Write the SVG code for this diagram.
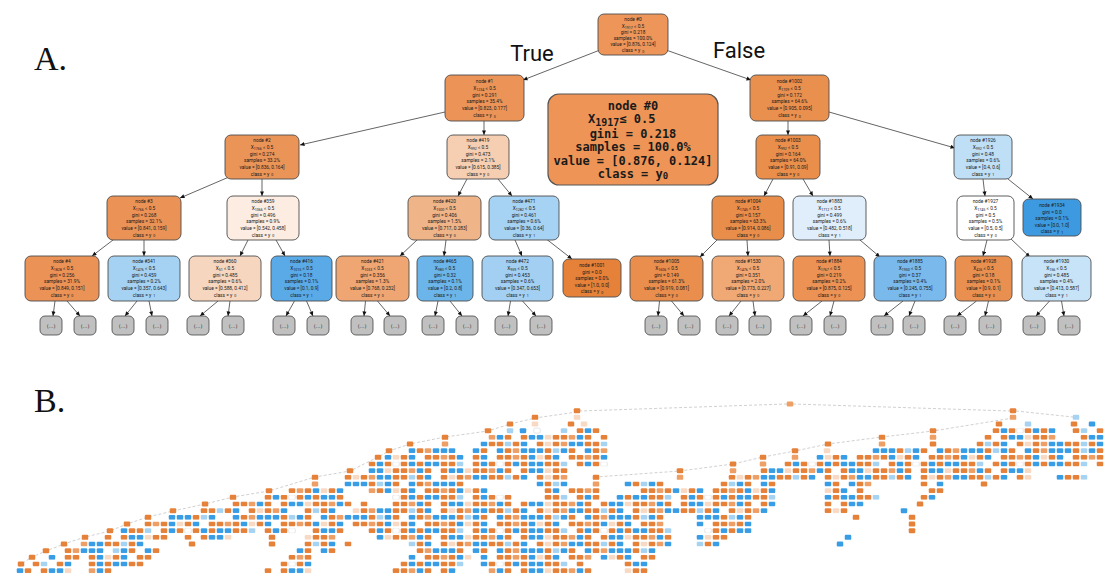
<svg xmlns="http://www.w3.org/2000/svg" width="1108" height="574" viewBox="0 0 1108 574">
<style>
.nd{stroke:#4d4d4d;stroke-width:0.9}
.t{font-family:Roboto,'Liberation Sans',sans-serif;font-size:4.8px;fill:#1a1a1a;text-anchor:middle}
.s{font-size:3.6px}
.e{stroke:#222;stroke-width:0.7;fill:none;marker-end:url(#ah)}
.g{fill:#c0c0c0;stroke:#444;stroke-width:0.8}
.gt{font-family:'DejaVu Sans',sans-serif;font-size:5px;fill:#333;text-anchor:middle}
.bt{font-family:'DejaVu Sans Mono',monospace;font-weight:bold;font-size:12px;fill:#1a1a1a;text-anchor:middle}
.bs{text-anchor:start}
.lbl{font-family:Roboto,'Liberation Sans',sans-serif;font-size:22px;fill:#111}
.pl{font-family:'Liberation Serif',serif;font-size:34px;fill:#111}
.dl{stroke:#c4c4c4;stroke-width:0.8;fill:none;stroke-dasharray:3 2}
.O{fill:#e58139}.o{fill:#ee9f66}.P{fill:#f8d9c4}.b{fill:#a7d3f3}.B{fill:#399de5}.W{fill:#fff;stroke:#ccc;stroke-width:0.5}
</style>
<defs>
<marker id="ah" viewBox="0 0 10 10" refX="10" refY="5" markerWidth="5" markerHeight="4.5" orient="auto" markerUnits="userSpaceOnUse"><path d="M0,0.5 L10,5 L0,9.5 z" fill="#111"/></marker>
<pattern id="pA" patternUnits="userSpaceOnUse" x="0" y="401.5" width="80" height="6.6667">
<rect x="0.75" width="6.5" height="5" rx="1.2" class="O"/><rect x="8.75" width="6.5" height="5" rx="1.2" class="o"/><rect x="16.75" width="6.5" height="5" rx="1.2" class="B"/><rect x="24.75" width="6.5" height="5" rx="1.2" class="O"/><rect x="40.75" width="6.5" height="5" rx="1.2" class="O"/><rect x="48.75" width="6.5" height="5" rx="1.2" class="B"/><rect x="56.75" width="6.5" height="5" rx="1.2" class="B"/><rect x="64.75" width="6.5" height="5" rx="1.2" class="P"/><rect x="72.75" width="6.5" height="5" rx="1.2" class="O"/>
</pattern>
<pattern id="pB" patternUnits="userSpaceOnUse" x="0" y="401.5" width="96" height="6.6667">
<rect x="0.75" width="6.5" height="5" rx="1.2" class="B"/><rect x="8.75" width="6.5" height="5" rx="1.2" class="O"/><rect x="16.75" width="6.5" height="5" rx="1.2" class="O"/><rect x="24.75" width="6.5" height="5" rx="1.2" class="b"/><rect x="32.75" width="6.5" height="5" rx="1.2" class="O"/><rect x="40.75" width="6.5" height="5" rx="1.2" class="B"/><rect x="56.75" width="6.5" height="5" rx="1.2" class="O"/><rect x="64.75" width="6.5" height="5" rx="1.2" class="P"/><rect x="72.75" width="6.5" height="5" rx="1.2" class="O"/><rect x="80.75" width="6.5" height="5" rx="1.2" class="o"/><rect x="88.75" width="6.5" height="5" rx="1.2" class="B"/>
</pattern>
<pattern id="pC" patternUnits="userSpaceOnUse" x="0" y="401.5" width="88" height="6.6667">
<rect x="0.75" width="6.5" height="5" rx="1.2" class="B"/><rect x="8.75" width="6.5" height="5" rx="1.2" class="B"/><rect x="16.75" width="6.5" height="5" rx="1.2" class="O"/><rect x="24.75" width="6.5" height="5" rx="1.2" class="b"/><rect x="32.75" width="6.5" height="5" rx="1.2" class="B"/><rect x="40.75" width="6.5" height="5" rx="1.2" class="O"/><rect x="56.75" width="6.5" height="5" rx="1.2" class="B"/><rect x="64.75" width="6.5" height="5" rx="1.2" class="O"/><rect x="72.75" width="6.5" height="5" rx="1.2" class="o"/><rect x="80.75" width="6.5" height="5" rx="1.2" class="B"/>
</pattern>
<pattern id="pD" patternUnits="userSpaceOnUse" x="0" y="401.5" width="72" height="6.6667">
<rect x="0.75" width="6.5" height="5" rx="1.2" class="O"/><rect x="8.75" width="6.5" height="5" rx="1.2" class="o"/><rect x="16.75" width="6.5" height="5" rx="1.2" class="O"/><rect x="24.75" width="6.5" height="5" rx="1.2" class="B"/><rect x="32.75" width="6.5" height="5" rx="1.2" class="P"/><rect x="40.75" width="6.5" height="5" rx="1.2" class="O"/><rect x="48.75" width="6.5" height="5" rx="1.2" class="B"/><rect x="64.75" width="6.5" height="5" rx="1.2" class="O"/>
</pattern>
<pattern id="pE" patternUnits="userSpaceOnUse" x="0" y="401.5" width="104" height="6.6667">
<rect x="0.75" width="6.5" height="5" rx="1.2" class="O"/><rect x="8.75" width="6.5" height="5" rx="1.2" class="B"/><rect x="16.75" width="6.5" height="5" rx="1.2" class="B"/><rect x="24.75" width="6.5" height="5" rx="1.2" class="O"/><rect x="32.75" width="6.5" height="5" rx="1.2" class="O"/><rect x="40.75" width="6.5" height="5" rx="1.2" class="b"/><rect x="56.75" width="6.5" height="5" rx="1.2" class="O"/><rect x="64.75" width="6.5" height="5" rx="1.2" class="B"/><rect x="72.75" width="6.5" height="5" rx="1.2" class="O"/><rect x="80.75" width="6.5" height="5" rx="1.2" class="W"/><rect x="88.75" width="6.5" height="5" rx="1.2" class="O"/><rect x="96.75" width="6.5" height="5" rx="1.2" class="B"/>
</pattern>
</defs>
<rect width="1108" height="574" fill="#fff"/>
<text class="pl" x="34" y="70">A.</text>
<text class="pl" x="34" y="412">B.</text>
<text class="lbl" x="532" y="61" text-anchor="middle">True</text>
<text class="lbl" x="739" y="58" text-anchor="middle">False</text>

<g id="edges">
<path class="e" d="M600,50 L523,80"/>
<path class="e" d="M666,50 L751,80"/>
<path class="e" d="M445,112 L300,145"/>
<path class="e" d="M484,121 L484,135"/>
<path class="e" d="M788,121 L788,135"/>
<path class="e" d="M829,112 L955,148"/>
<path class="e" d="M229,177 L180,198"/>
<path class="e" d="M262,179 L262,196"/>
<path class="e" d="M467,179 L458,196"/>
<path class="e" d="M498,179 L512,196"/>
<path class="e" d="M773,179 L764,196"/>
<path class="e" d="M803,179 L813,196"/>
<path class="e" d="M983,179 L985,196"/>
<path class="e" d="M1008,179 L1033,199"/>
<path class="e" d="M113,240 L92,256"/>
<path class="e" d="M144,240 L144,256"/>
<path class="e" d="M248,240 L240,256"/>
<path class="e" d="M276,240 L285,256"/>
<path class="e" d="M417,240 L400,256"/>
<path class="e" d="M446,240 L444,256"/>
<path class="e" d="M515,240 L522,256"/>
<path class="e" d="M545,238 L572,259"/>
<path class="e" d="M717,240 L700,257"/>
<path class="e" d="M747,240 L748,256"/>
<path class="e" d="M829,240 L830,256"/>
<path class="e" d="M860,240 L880,257"/>
<path class="e" d="M987,240 L983,256"/>
<path class="e" d="M1010,238 L1030,257"/>
<path class="e" d="M55,301 L53,316"/><path class="e" d="M67,301 L80,316"/>
<path class="e" d="M137,301 L125,316"/><path class="e" d="M149,301 L152,316"/>
<path class="e" d="M218,301 L200,316"/><path class="e" d="M230,301 L228,316"/>
<path class="e" d="M294.5,301 L286,316"/><path class="e" d="M306.5,301 L313,316"/>
<path class="e" d="M365.5,301 L364,316"/><path class="e" d="M377.5,301 L390,316"/>
<path class="e" d="M438,301 L435,316"/><path class="e" d="M450,301 L462,316"/>
<path class="e" d="M510.5,301 L508,316"/><path class="e" d="M522.5,301 L536,316"/>
<path class="e" d="M659.5,301 L658,316"/><path class="e" d="M671.5,301 L684,316"/>
<path class="e" d="M741,301 L729,316"/><path class="e" d="M753,301 L755,316"/>
<path class="e" d="M822,301 L803,316"/><path class="e" d="M834,301 L830,316"/>
<path class="e" d="M903,301 L884,316"/><path class="e" d="M915,301 L909,316"/>
<path class="e" d="M976.5,301 L957,316"/><path class="e" d="M988.5,301 L985,316"/>
<path class="e" d="M1049.5,301 L1036,316"/><path class="e" d="M1061.5,301 L1064,316"/>
</g>

<g id="n0"><rect class="nd" x="598" y="14" width="70" height="41" rx="6" fill="#ee9559"/>
<text class="t" x="633" y="21">node #0</text><text class="t" x="633" y="27.5">X<tspan class="s" dy="1">1917</tspan><tspan dy="-1"> ≤ 0.5</tspan></text><text class="t" x="633" y="33.5">gini = 0.218</text><text class="t" x="633" y="39.5">samples = 100.0%</text><text class="t" x="633" y="45.5">value = [0.876, 0.124]</text><text class="t" x="633" y="52">class = y<tspan class="s" dx="2" dy="0.5">0</tspan></text></g>

<g id="n1"><rect class="nd" x="445" y="75" width="79" height="46" rx="6" fill="#ec9457"/>
<text class="t" x="484.5" y="82.5">node #1</text><text class="t" x="484.5" y="90">X<tspan class="s" dy="1">1234</tspan><tspan dy="-1"> ≤ 0.5</tspan></text><text class="t" x="484.5" y="96.5">gini = 0.291</text><text class="t" x="484.5" y="103">samples = 35.4%</text><text class="t" x="484.5" y="110">value = [0.823, 0.177]</text><text class="t" x="484.5" y="117">class = y<tspan class="s" dx="2" dy="0.5">0</tspan></text></g>

<g id="n1002"><rect class="nd" x="750" y="75" width="79" height="46" rx="6" fill="#ea904f"/>
<text class="t" x="789.5" y="82.5">node #1002</text><text class="t" x="789.5" y="90">X<tspan class="s" dy="1">1709</tspan><tspan dy="-1"> ≤ 0.5</tspan></text><text class="t" x="789.5" y="96.5">gini = 0.172</text><text class="t" x="789.5" y="103">samples = 64.6%</text><text class="t" x="789.5" y="110">value = [0.905, 0.095]</text><text class="t" x="789.5" y="117">class = y<tspan class="s" dx="2" dy="0.5">0</tspan></text></g>

<g id="nbig"><rect x="548" y="94" width="170" height="91" rx="11" fill="#ed9456" stroke="#555" stroke-width="1.2"/>
<text class="bt" x="633" y="109.5">node #0</text>
<text class="bt bs" x="588" y="123">X<tspan font-size="10" dy="2.5">1917</tspan><tspan dy="-2.5">≤ 0.5</tspan></text>
<text class="bt" x="633" y="138">gini = 0.218</text>
<text class="bt" x="633" y="151">samples = 100.0%</text>
<text class="bt" x="633" y="164.5">value = [0.876, 0.124]</text>
<text class="bt" x="633" y="178">class = y<tspan font-size="9" dy="1">0</tspan></text></g>

<g id="n2"><rect class="nd" x="225" y="135" width="74" height="44" rx="6" fill="#eb9457"/>
<text class="t" x="262" y="142">node #2</text><text class="t" x="262" y="149">X<tspan class="s" dy="1">1766</tspan><tspan dy="-1"> ≤ 0.5</tspan></text><text class="t" x="262" y="155.5">gini = 0.274</text><text class="t" x="262" y="162">samples = 33.2%</text><text class="t" x="262" y="168.5">value = [0.836, 0.164]</text><text class="t" x="262" y="175.5">class = y<tspan class="s" dx="2" dy="0.5">0</tspan></text></g>

<g id="n419"><rect class="nd" x="447" y="135" width="62" height="44" rx="6" fill="#f6cfb3"/>
<text class="t" x="478" y="142">node #419</text><text class="t" x="478" y="149">X<tspan class="s" dy="1">992</tspan><tspan dy="-1"> ≤ 0.5</tspan></text><text class="t" x="478" y="155.5">gini = 0.473</text><text class="t" x="478" y="162">samples = 2.1%</text><text class="t" x="478" y="168.5">value = [0.615, 0.385]</text><text class="t" x="478" y="175.5">class = y<tspan class="s" dx="2" dy="0.5">0</tspan></text></g>

<g id="n1003"><rect class="nd" x="756" y="135" width="64" height="44" rx="6" fill="#ea8e4c"/>
<text class="t" x="788" y="142">node #1003</text><text class="t" x="788" y="149">X<tspan class="s" dy="1">992</tspan><tspan dy="-1"> ≤ 0.5</tspan></text><text class="t" x="788" y="155.5">gini = 0.164</text><text class="t" x="788" y="162">samples = 64.0%</text><text class="t" x="788" y="168.5">value = [0.91, 0.09]</text><text class="t" x="788" y="175.5">class = y<tspan class="s" dx="2" dy="0.5">0</tspan></text></g>

<g id="n1926"><rect class="nd" x="954" y="135" width="58" height="44" rx="6" fill="#bfdff6"/>
<text class="t" x="983" y="142">node #1926</text><text class="t" x="983" y="149">X<tspan class="s" dy="1">992</tspan><tspan dy="-1"> ≤ 0.5</tspan></text><text class="t" x="983" y="155.5">gini = 0.48</text><text class="t" x="983" y="162">samples = 0.6%</text><text class="t" x="983" y="168.5">value = [0.4, 0.6]</text><text class="t" x="983" y="175.5">class = y<tspan class="s" dx="2" dy="0.5">1</tspan></text></g>

<g id="n3"><rect class="nd" x="107" y="196" width="74" height="44" rx="6" fill="#eb9356"/>
<text class="t" x="144" y="203">node #3</text><text class="t" x="144" y="210">X<tspan class="s" dy="1">1766</tspan><tspan dy="-1"> ≤ 0.5</tspan></text><text class="t" x="144" y="216.5">gini = 0.268</text><text class="t" x="144" y="223">samples = 32.1%</text><text class="t" x="144" y="229.5">value = [0.841, 0.159]</text><text class="t" x="144" y="236.5">class = y<tspan class="s" dx="2" dy="0.5">0</tspan></text></g>

<g id="n359"><rect class="nd" x="227" y="196" width="72" height="44" rx="6" fill="#fcece1"/>
<text class="t" x="263" y="203">node #359</text><text class="t" x="263" y="210">X<tspan class="s" dy="1">1066</tspan><tspan dy="-1"> ≤ 0.5</tspan></text><text class="t" x="263" y="216.5">gini = 0.496</text><text class="t" x="263" y="223">samples = 0.9%</text><text class="t" x="263" y="229.5">value = [0.542, 0.458]</text><text class="t" x="263" y="236.5">class = y<tspan class="s" dx="2" dy="0.5">0</tspan></text></g>

<g id="n420"><rect class="nd" x="408" y="196" width="73" height="44" rx="6" fill="#f0b489"/>
<text class="t" x="444.5" y="203">node #420</text><text class="t" x="444.5" y="210">X<tspan class="s" dy="1">1500</tspan><tspan dy="-1"> ≤ 0.5</tspan></text><text class="t" x="444.5" y="216.5">gini = 0.406</text><text class="t" x="444.5" y="223">samples = 1.5%</text><text class="t" x="444.5" y="229.5">value = [0.717, 0.283]</text><text class="t" x="444.5" y="236.5">class = y<tspan class="s" dx="2" dy="0.5">0</tspan></text></g>

<g id="n471"><rect class="nd" x="489" y="196" width="70" height="44" rx="6" fill="#a6d2f3"/>
<text class="t" x="524" y="203">node #471</text><text class="t" x="524" y="210">X<tspan class="s" dy="1">1282</tspan><tspan dy="-1"> ≤ 0.5</tspan></text><text class="t" x="524" y="216.5">gini = 0.461</text><text class="t" x="524" y="223">samples = 0.6%</text><text class="t" x="524" y="229.5">value = [0.36, 0.64]</text><text class="t" x="524" y="236.5">class = y<tspan class="s" dx="2" dy="0.5">1</tspan></text></g>

<g id="n1004"><rect class="nd" x="712" y="196" width="72" height="44" rx="6" fill="#e98d4b"/>
<text class="t" x="748" y="203">node #1004</text><text class="t" x="748" y="210">X<tspan class="s" dy="1">1745</tspan><tspan dy="-1"> ≤ 0.5</tspan></text><text class="t" x="748" y="216.5">gini = 0.157</text><text class="t" x="748" y="223">samples = 63.3%</text><text class="t" x="748" y="229.5">value = [0.914, 0.086]</text><text class="t" x="748" y="236.5">class = y<tspan class="s" dx="2" dy="0.5">0</tspan></text></g>

<g id="n1883"><rect class="nd" x="793" y="196" width="73" height="44" rx="6" fill="#e0eefb"/>
<text class="t" x="829.5" y="203">node #1883</text><text class="t" x="829.5" y="210">X<tspan class="s" dy="1">1712</tspan><tspan dy="-1"> ≤ 0.5</tspan></text><text class="t" x="829.5" y="216.5">gini = 0.499</text><text class="t" x="829.5" y="223">samples = 0.6%</text><text class="t" x="829.5" y="229.5">value = [0.482, 0.518]</text><text class="t" x="829.5" y="236.5">class = y<tspan class="s" dx="2" dy="0.5">1</tspan></text></g>

<g id="n1927"><rect class="nd" x="957" y="196" width="57" height="44" rx="6" fill="#ffffff"/>
<text class="t" x="985.5" y="203">node #1927</text><text class="t" x="985.5" y="210">X<tspan class="s" dy="1">1745</tspan><tspan dy="-1"> ≤ 0.5</tspan></text><text class="t" x="985.5" y="216.5">gini = 0.5</text><text class="t" x="985.5" y="223">samples = 0.5%</text><text class="t" x="985.5" y="229.5">value = [0.5, 0.5]</text><text class="t" x="985.5" y="236.5">class = y<tspan class="s" dx="2" dy="0.5">0</tspan></text></g>

<g id="n1934"><rect class="nd" x="1023" y="199" width="58" height="37" rx="6" fill="#3d9ae0"/>
<text class="t" x="1052" y="207">node #1934</text><text class="t" x="1052" y="213.5">gini = 0.0</text><text class="t" x="1052" y="220">samples = 0.1%</text><text class="t" x="1052" y="226.5">value = [0.0, 1.0]</text><text class="t" x="1052" y="233">class = y<tspan class="s" dx="2" dy="0.5">1</tspan></text></g>

<g id="n4"><rect class="nd" x="25" y="256" width="74" height="45" rx="6" fill="#eb9256"/>
<text class="t" x="62" y="263">node #4</text><text class="t" x="62" y="270">X<tspan class="s" dy="1">1828</tspan><tspan dy="-1"> ≤ 0.5</tspan></text><text class="t" x="62" y="276.5">gini = 0.256</text><text class="t" x="62" y="283">samples = 31.9%</text><text class="t" x="62" y="289.5">value = [0.849, 0.151]</text><text class="t" x="62" y="296.5">class = y<tspan class="s" dx="2" dy="0.5">0</tspan></text></g>

<g id="n341"><rect class="nd" x="108" y="256" width="72" height="45" rx="6" fill="#a5d2f3"/>
<text class="t" x="144" y="263">node #341</text><text class="t" x="144" y="270">X<tspan class="s" dy="1">1476</tspan><tspan dy="-1"> ≤ 0.5</tspan></text><text class="t" x="144" y="276.5">gini = 0.459</text><text class="t" x="144" y="283">samples = 0.2%</text><text class="t" x="144" y="289.5">value = [0.357, 0.643]</text><text class="t" x="144" y="296.5">class = y<tspan class="s" dx="2" dy="0.5">1</tspan></text></g>

<g id="n360"><rect class="nd" x="189" y="256" width="72" height="45" rx="6" fill="#f7d6bf"/>
<text class="t" x="225" y="263">node #360</text><text class="t" x="225" y="270">X<tspan class="s" dy="1">51</tspan><tspan dy="-1"> ≤ 0.5</tspan></text><text class="t" x="225" y="276.5">gini = 0.485</text><text class="t" x="225" y="283">samples = 0.6%</text><text class="t" x="225" y="289.5">value = [0.588, 0.412]</text><text class="t" x="225" y="296.5">class = y<tspan class="s" dx="2" dy="0.5">0</tspan></text></g>

<g id="n416"><rect class="nd" x="271" y="256" width="61" height="45" rx="6" fill="#5aaae8"/>
<text class="t" x="301.5" y="263">node #416</text><text class="t" x="301.5" y="270">X<tspan class="s" dy="1">1015</tspan><tspan dy="-1"> ≤ 0.5</tspan></text><text class="t" x="301.5" y="276.5">gini = 0.18</text><text class="t" x="301.5" y="283">samples = 0.1%</text><text class="t" x="301.5" y="289.5">value = [0.1, 0.9]</text><text class="t" x="301.5" y="296.5">class = y<tspan class="s" dx="2" dy="0.5">1</tspan></text></g>

<g id="n421"><rect class="nd" x="336" y="256" width="73" height="45" rx="6" fill="#efa672"/>
<text class="t" x="372.5" y="263">node #421</text><text class="t" x="372.5" y="270">X<tspan class="s" dy="1">1033</tspan><tspan dy="-1"> ≤ 0.5</tspan></text><text class="t" x="372.5" y="276.5">gini = 0.356</text><text class="t" x="372.5" y="283">samples = 1.3%</text><text class="t" x="372.5" y="289.5">value = [0.768, 0.232]</text><text class="t" x="372.5" y="296.5">class = y<tspan class="s" dx="2" dy="0.5">0</tspan></text></g>

<g id="n465"><rect class="nd" x="417" y="256" width="56" height="45" rx="6" fill="#6bb5ea"/>
<text class="t" x="445" y="263">node #465</text><text class="t" x="445" y="270">X<tspan class="s" dy="1">983</tspan><tspan dy="-1"> ≤ 0.5</tspan></text><text class="t" x="445" y="276.5">gini = 0.32</text><text class="t" x="445" y="283">samples = 0.1%</text><text class="t" x="445" y="289.5">value = [0.2, 0.8]</text><text class="t" x="445" y="296.5">class = y<tspan class="s" dx="2" dy="0.5">1</tspan></text></g>

<g id="n472"><rect class="nd" x="482" y="256" width="71" height="45" rx="6" fill="#a3d0f2"/>
<text class="t" x="517.5" y="263">node #472</text><text class="t" x="517.5" y="270">X<tspan class="s" dy="1">959</tspan><tspan dy="-1"> ≤ 0.5</tspan></text><text class="t" x="517.5" y="276.5">gini = 0.453</text><text class="t" x="517.5" y="283">samples = 0.6%</text><text class="t" x="517.5" y="289.5">value = [0.347, 0.653]</text><text class="t" x="517.5" y="296.5">class = y<tspan class="s" dx="2" dy="0.5">1</tspan></text></g>

<g id="n1001"><rect class="nd" x="563" y="259" width="58" height="38" rx="6" fill="#e58139"/>
<text class="t" x="592" y="267">node #1001</text><text class="t" x="592" y="273.5">gini = 0.0</text><text class="t" x="592" y="280">samples = 0.0%</text><text class="t" x="592" y="286.5">value = [1.0, 0.0]</text><text class="t" x="592" y="293">class = y<tspan class="s" dx="2" dy="0.5">0</tspan></text></g>

<g id="n1005"><rect class="nd" x="630" y="256" width="73" height="45" rx="6" fill="#ea8e4d"/>
<text class="t" x="666.5" y="263">node #1005</text><text class="t" x="666.5" y="270">X<tspan class="s" dy="1">1606</tspan><tspan dy="-1"> ≤ 0.5</tspan></text><text class="t" x="666.5" y="276.5">gini = 0.149</text><text class="t" x="666.5" y="283">samples = 61.3%</text><text class="t" x="666.5" y="289.5">value = [0.919, 0.081]</text><text class="t" x="666.5" y="296.5">class = y<tspan class="s" dx="2" dy="0.5">0</tspan></text></g>

<g id="n1530"><rect class="nd" x="712" y="256" width="72" height="45" rx="6" fill="#f0a875"/>
<text class="t" x="748" y="263">node #1530</text><text class="t" x="748" y="270">X<tspan class="s" dy="1">1476</tspan><tspan dy="-1"> ≤ 0.5</tspan></text><text class="t" x="748" y="276.5">gini = 0.351</text><text class="t" x="748" y="283">samples = 2.0%</text><text class="t" x="748" y="289.5">value = [0.773, 0.227]</text><text class="t" x="748" y="296.5">class = y<tspan class="s" dx="2" dy="0.5">0</tspan></text></g>

<g id="n1884"><rect class="nd" x="793" y="256" width="72" height="45" rx="6" fill="#eb9254"/>
<text class="t" x="829" y="263">node #1884</text><text class="t" x="829" y="270">X<tspan class="s" dy="1">1767</tspan><tspan dy="-1"> ≤ 0.5</tspan></text><text class="t" x="829" y="276.5">gini = 0.219</text><text class="t" x="829" y="283">samples = 0.2%</text><text class="t" x="829" y="289.5">value = [0.875, 0.125]</text><text class="t" x="829" y="296.5">class = y<tspan class="s" dx="2" dy="0.5">0</tspan></text></g>

<g id="n1885"><rect class="nd" x="874" y="256" width="72" height="45" rx="6" fill="#7ab9ec"/>
<text class="t" x="910" y="263">node #1885</text><text class="t" x="910" y="270">X<tspan class="s" dy="1">1950</tspan><tspan dy="-1"> ≤ 0.5</tspan></text><text class="t" x="910" y="276.5">gini = 0.37</text><text class="t" x="910" y="283">samples = 0.4%</text><text class="t" x="910" y="289.5">value = [0.245, 0.755]</text><text class="t" x="910" y="296.5">class = y<tspan class="s" dx="2" dy="0.5">1</tspan></text></g>

<g id="n1928"><rect class="nd" x="955" y="256" width="57" height="45" rx="6" fill="#e99050"/>
<text class="t" x="983.5" y="263">node #1928</text><text class="t" x="983.5" y="270">X<tspan class="s" dy="1">426</tspan><tspan dy="-1"> ≤ 0.5</tspan></text><text class="t" x="983.5" y="276.5">gini = 0.18</text><text class="t" x="983.5" y="283">samples = 0.1%</text><text class="t" x="983.5" y="289.5">value = [0.9, 0.1]</text><text class="t" x="983.5" y="296.5">class = y<tspan class="s" dx="2" dy="0.5">0</tspan></text></g>

<g id="n1930"><rect class="nd" x="1022" y="256" width="69" height="45" rx="6" fill="#c6e3f7"/>
<text class="t" x="1056.5" y="263">node #1930</text><text class="t" x="1056.5" y="270">X<tspan class="s" dy="1">156</tspan><tspan dy="-1"> ≤ 0.5</tspan></text><text class="t" x="1056.5" y="276.5">gini = 0.485</text><text class="t" x="1056.5" y="283">samples = 0.4%</text><text class="t" x="1056.5" y="289.5">value = [0.413, 0.587]</text><text class="t" x="1056.5" y="296.5">class = y<tspan class="s" dx="2" dy="0.5">1</tspan></text></g>

<g id="truncated">
<rect class="g" x="40" y="316" width="22" height="19" rx="5"/><text class="gt" x="51" y="327.5">(...)</text>
<rect class="g" x="74" y="316" width="22" height="19" rx="5"/><text class="gt" x="85" y="327.5">(...)</text>
<rect class="g" x="112" y="316" width="22" height="19" rx="5"/><text class="gt" x="123" y="327.5">(...)</text>
<rect class="g" x="146" y="316" width="22" height="19" rx="5"/><text class="gt" x="157" y="327.5">(...)</text>
<rect class="g" x="187" y="316" width="22" height="19" rx="5"/><text class="gt" x="198" y="327.5">(...)</text>
<rect class="g" x="222" y="316" width="22" height="19" rx="5"/><text class="gt" x="233" y="327.5">(...)</text>
<rect class="g" x="273" y="316" width="22" height="19" rx="5"/><text class="gt" x="284" y="327.5">(...)</text>
<rect class="g" x="307" y="316" width="22" height="19" rx="5"/><text class="gt" x="318" y="327.5">(...)</text>
<rect class="g" x="351" y="316" width="22" height="19" rx="5"/><text class="gt" x="362" y="327.5">(...)</text>
<rect class="g" x="384" y="316" width="22" height="19" rx="5"/><text class="gt" x="395" y="327.5">(...)</text>
<rect class="g" x="422" y="316" width="22" height="19" rx="5"/><text class="gt" x="433" y="327.5">(...)</text>
<rect class="g" x="456" y="316" width="22" height="19" rx="5"/><text class="gt" x="467" y="327.5">(...)</text>
<rect class="g" x="495" y="316" width="22" height="19" rx="5"/><text class="gt" x="506" y="327.5">(...)</text>
<rect class="g" x="530" y="316" width="22" height="19" rx="5"/><text class="gt" x="541" y="327.5">(...)</text>
<rect class="g" x="645" y="316" width="22" height="19" rx="5"/><text class="gt" x="656" y="327.5">(...)</text>
<rect class="g" x="678" y="316" width="22" height="19" rx="5"/><text class="gt" x="689" y="327.5">(...)</text>
<rect class="g" x="716" y="316" width="22" height="19" rx="5"/><text class="gt" x="727" y="327.5">(...)</text>
<rect class="g" x="749" y="316" width="22" height="19" rx="5"/><text class="gt" x="760" y="327.5">(...)</text>
<rect class="g" x="790" y="316" width="22" height="19" rx="5"/><text class="gt" x="801" y="327.5">(...)</text>
<rect class="g" x="824" y="316" width="22" height="19" rx="5"/><text class="gt" x="835" y="327.5">(...)</text>
<rect class="g" x="871" y="316" width="22" height="19" rx="5"/><text class="gt" x="882" y="327.5">(...)</text>
<rect class="g" x="903" y="316" width="22" height="19" rx="5"/><text class="gt" x="914" y="327.5">(...)</text>
<rect class="g" x="944" y="316" width="22" height="19" rx="5"/><text class="gt" x="955" y="327.5">(...)</text>
<rect class="g" x="979" y="316" width="22" height="19" rx="5"/><text class="gt" x="990" y="327.5">(...)</text>
<rect class="g" x="1023" y="316" width="22" height="19" rx="5"/><text class="gt" x="1034" y="327.5">(...)</text>
<rect class="g" x="1058" y="316" width="22" height="19" rx="5"/><text class="gt" x="1069" y="327.5">(...)</text>
</g>

<g id="partB">
<path class="dl" d="M787,404 L580,411"/>
<path class="dl" d="M793,404 L1010,411"/>
<path class="dl" d="M1016,411 L1073,417"/>
<path class="dl" d="M577,412 L535,418 L510,424 L488,431 L445,437 L410,444 L389,451 L378,457 L350,471 L315,477 L269,491 L233,497 L205,504 L173,511 L148,517 L127,524 L110,531 L85,537 L64,544 L46,551 L32,557 L21,564 L18,571"/>
<path class="dl" d="M1013,418 L933,431 L882,437 L828,444 L795,451 L763,457 L733,464 L680,471 L596,477"/>
<g>
<rect class="o" x="786.75" y="401.5" width="6.5" height="5" rx="1.2"/>
<rect class="O" x="573.75" y="408.17" width="6.5" height="5" rx="1.2"/>
<rect class="O" x="1009.75" y="408.17" width="6.5" height="5" rx="1.2"/>
<rect class="O" x="531.75" y="414.83" width="6.5" height="5" rx="1.2"/>
<rect class="P" x="573.75" y="414.83" width="6.5" height="5" rx="1.2"/>
<rect class="o" x="1009.75" y="414.83" width="6.5" height="5" rx="1.2"/>
<rect class="b" x="1072.75" y="414.83" width="6.5" height="5" rx="1.2"/>
<rect class="O" x="506.75" y="421.5" width="6.5" height="5" rx="1.2"/>
<rect class="P" x="531.75" y="421.5" width="6.5" height="5" rx="1.2"/>
<rect class="O" x="567.75" y="421.5" width="6.5" height="5" rx="1.2"/>
<rect class="P" x="580.75" y="421.5" width="6.5" height="5" rx="1.2"/>
<rect class="O" x="995.75" y="421.5" width="6.5" height="5" rx="1.2"/>
<rect class="b" x="1024.75" y="421.5" width="6.5" height="5" rx="1.2"/>
<rect class="O" x="1070.75" y="421.5" width="6.5" height="5" rx="1.2"/>
<rect class="B" x="1088.75" y="421.5" width="6.5" height="5" rx="1.2"/>
<rect class="O" x="484.75" y="428.17" width="6.5" height="5" rx="1.2"/>
<rect class="b" x="506.75" y="428.17" width="6.5" height="5" rx="1.2"/>
<rect class="B" x="519.75" y="428.17" width="6.5" height="5" rx="1.2"/>
<rect class="W" x="533.75" y="428.17" width="6.5" height="5" rx="1.2"/>
<rect class="O" x="929.75" y="428.17" width="6.5" height="5" rx="1.2"/>
<rect class="O" x="441.75" y="434.83" width="6.5" height="5" rx="1.2"/>
<rect class="O" x="878.75" y="434.83" width="6.5" height="5" rx="1.2"/>
<rect class="o" x="929.75" y="434.83" width="6.5" height="5" rx="1.2"/>
<rect class="O" x="406.75" y="441.5" width="6.5" height="5" rx="1.2"/>
<rect class="o" x="441.75" y="441.5" width="6.5" height="5" rx="1.2"/>
<rect class="O" x="824.75" y="441.5" width="6.5" height="5" rx="1.2"/>
<rect class="o" x="878.75" y="441.5" width="6.5" height="5" rx="1.2"/>
<rect class="O" x="929.75" y="441.5" width="6.5" height="5" rx="1.2"/>
<rect class="O" x="385.75" y="448.17" width="6.5" height="5" rx="1.2"/>
<rect class="O" x="791.75" y="448.17" width="6.5" height="5" rx="1.2"/>
<rect class="P" x="823.75" y="448.17" width="6.5" height="5" rx="1.2"/>
<rect class="O" x="374.75" y="454.83" width="6.5" height="5" rx="1.2"/>
<rect class="O" x="759.75" y="454.83" width="6.5" height="5" rx="1.2"/>
<rect class="o" x="791.75" y="454.83" width="6.5" height="5" rx="1.2"/>
<rect class="O" x="729.75" y="461.5" width="6.5" height="5" rx="1.2"/>
<rect class="o" x="759.75" y="461.5" width="6.5" height="5" rx="1.2"/>
<rect class="O" x="346.75" y="468.17" width="6.5" height="5" rx="1.2"/>
<rect class="O" x="676.75" y="468.17" width="6.5" height="5" rx="1.2"/>
<rect class="o" x="729.75" y="468.17" width="6.5" height="5" rx="1.2"/>
<rect class="O" x="311.75" y="474.83" width="6.5" height="5" rx="1.2"/>
<rect class="O" x="592.75" y="474.83" width="6.5" height="5" rx="1.2"/>
<rect class="o" x="676.75" y="474.83" width="6.5" height="5" rx="1.2"/>
<rect class="o" x="311.75" y="481.5" width="6.5" height="5" rx="1.2"/>
<rect class="o" x="592.75" y="481.5" width="6.5" height="5" rx="1.2"/>
<rect class="O" x="980.75" y="481.5" width="6.5" height="5" rx="1.2"/>
<rect class="O" x="265.75" y="488.17" width="6.5" height="5" rx="1.2"/>
<rect class="O" x="229.75" y="494.83" width="6.5" height="5" rx="1.2"/>
<rect class="O" x="201.75" y="501.5" width="6.5" height="5" rx="1.2"/>
<rect class="O" x="916.75" y="501.5" width="6.5" height="5" rx="1.2"/>
<rect class="O" x="169.75" y="508.17" width="6.5" height="5" rx="1.2"/>
<rect class="B" x="900.75" y="508.17" width="6.5" height="5" rx="1.2"/>
<rect class="O" x="144.75" y="514.83" width="6.5" height="5" rx="1.2"/>
<rect class="O" x="852.75" y="514.83" width="6.5" height="5" rx="1.2"/>
<rect class="O" x="908.75" y="514.83" width="6.5" height="5" rx="1.2"/>
<rect class="O" x="123.75" y="521.5" width="6.5" height="5" rx="1.2"/>
<rect class="O" x="908.75" y="521.5" width="6.5" height="5" rx="1.2"/>
<rect class="O" x="106.75" y="528.17" width="6.5" height="5" rx="1.2"/>
<rect class="O" x="908.75" y="528.17" width="6.5" height="5" rx="1.2"/>
<rect class="O" x="81.75" y="534.83" width="6.5" height="5" rx="1.2"/>
<rect class="O" x="268.75" y="534.83" width="6.5" height="5" rx="1.2"/>
<rect class="B" x="844.75" y="534.83" width="6.5" height="5" rx="1.2"/>
<rect class="O" x="60.75" y="541.5" width="6.5" height="5" rx="1.2"/>
<rect class="O" x="188.75" y="541.5" width="6.5" height="5" rx="1.2"/>
<rect class="O" x="268.75" y="541.5" width="6.5" height="5" rx="1.2"/>
<rect class="B" x="836.75" y="541.5" width="6.5" height="5" rx="1.2"/>
<rect class="O" x="42.75" y="548.17" width="6.5" height="5" rx="1.2"/>
<rect class="O" x="28.75" y="554.83" width="6.5" height="5" rx="1.2"/>
<rect class="O" x="17.75" y="561.5" width="6.5" height="5" rx="1.2"/>
</g>
<g>
<rect x="560" y="428.17" width="40" height="5" fill="url(#pE)"/><rect x="984" y="428.17" width="72" height="5" fill="url(#pE)"/><rect x="1072" y="428.17" width="32" height="5" fill="url(#pE)"/>
<rect x="488" y="434.83" width="120" height="5" fill="url(#pA)"/><rect x="984" y="434.83" width="72" height="5" fill="url(#pA)"/><rect x="1072" y="434.83" width="32" height="5" fill="url(#pA)"/>
<rect x="480" y="441.5" width="128" height="5" fill="url(#pB)"/><rect x="976" y="441.5" width="128" height="5" fill="url(#pB)"/>
<rect x="408" y="448.17" width="48" height="5" fill="url(#pC)"/><rect x="472" y="448.17" width="136" height="5" fill="url(#pC)"/><rect x="872" y="448.17" width="232" height="5" fill="url(#pC)"/>
<rect x="384" y="454.83" width="80" height="5" fill="url(#pD)"/><rect x="472" y="454.83" width="136" height="5" fill="url(#pD)"/><rect x="816" y="454.83" width="288" height="5" fill="url(#pD)"/>
<rect x="360" y="461.5" width="248" height="5" fill="url(#pE)"/><rect x="776" y="461.5" width="328" height="5" fill="url(#pE)"/>
<rect x="368" y="468.17" width="200" height="5" fill="url(#pA)"/><rect x="752" y="468.17" width="280" height="5" fill="url(#pA)"/>
<rect x="344" y="474.83" width="224" height="5" fill="url(#pB)"/><rect x="720" y="474.83" width="312" height="5" fill="url(#pB)"/><rect x="1056" y="474.83" width="32" height="5" fill="url(#pB)"/>
<rect x="344" y="481.5" width="120" height="5" fill="url(#pC)"/><rect x="536" y="481.5" width="32" height="5" fill="url(#pC)"/><rect x="624" y="481.5" width="40" height="5" fill="url(#pC)"/><rect x="720" y="481.5" width="56" height="5" fill="url(#pC)"/><rect x="824" y="481.5" width="48" height="5" fill="url(#pC)"/><rect x="920" y="481.5" width="24" height="5" fill="url(#pC)"/>
<rect x="288" y="488.17" width="56" height="5" fill="url(#pD)"/><rect x="368" y="488.17" width="128" height="5" fill="url(#pD)"/><rect x="544" y="488.17" width="56" height="5" fill="url(#pD)"/><rect x="632" y="488.17" width="144" height="5" fill="url(#pD)"/><rect x="824" y="488.17" width="40" height="5" fill="url(#pD)"/><rect x="920" y="488.17" width="24" height="5" fill="url(#pD)"/>
<rect x="264" y="494.83" width="80" height="5" fill="url(#pE)"/><rect x="392" y="494.83" width="120" height="5" fill="url(#pE)"/><rect x="544" y="494.83" width="56" height="5" fill="url(#pE)"/><rect x="616" y="494.83" width="160" height="5" fill="url(#pE)"/><rect x="824" y="494.83" width="56" height="5" fill="url(#pE)"/><rect x="920" y="494.83" width="16" height="5" fill="url(#pE)"/>
<rect x="232" y="501.5" width="136" height="5" fill="url(#pA)"/><rect x="392" y="501.5" width="384" height="5" fill="url(#pA)"/><rect x="824" y="501.5" width="40" height="5" fill="url(#pA)"/>
<rect x="200" y="508.17" width="88" height="5" fill="url(#pB)"/><rect x="304" y="508.17" width="32" height="5" fill="url(#pB)"/><rect x="352" y="508.17" width="416" height="5" fill="url(#pB)"/><rect x="824" y="508.17" width="24" height="5" fill="url(#pB)"/>
<rect x="168" y="514.83" width="48" height="5" fill="url(#pC)"/><rect x="224" y="514.83" width="440" height="5" fill="url(#pC)"/><rect x="696" y="514.83" width="56" height="5" fill="url(#pC)"/>
<rect x="144" y="521.5" width="520" height="5" fill="url(#pD)"/><rect x="696" y="521.5" width="56" height="5" fill="url(#pD)"/>
<rect x="120" y="528.17" width="176" height="5" fill="url(#pE)"/><rect x="312" y="528.17" width="32" height="5" fill="url(#pE)"/><rect x="360" y="528.17" width="312" height="5" fill="url(#pE)"/><rect x="704" y="528.17" width="48" height="5" fill="url(#pE)"/>
<rect x="104" y="534.83" width="64" height="5" fill="url(#pA)"/><rect x="184" y="534.83" width="48" height="5" fill="url(#pA)"/><rect x="304" y="534.83" width="32" height="5" fill="url(#pA)"/><rect x="376" y="534.83" width="296" height="5" fill="url(#pA)"/><rect x="696" y="534.83" width="32" height="5" fill="url(#pA)"/>
<rect x="80" y="541.5" width="72" height="5" fill="url(#pB)"/><rect x="304" y="541.5" width="48" height="5" fill="url(#pB)"/><rect x="408" y="541.5" width="264" height="5" fill="url(#pB)"/><rect x="696" y="541.5" width="32" height="5" fill="url(#pB)"/>
<rect x="64" y="548.17" width="40" height="5" fill="url(#pC)"/><rect x="112" y="548.17" width="48" height="5" fill="url(#pC)"/><rect x="296" y="548.17" width="40" height="5" fill="url(#pC)"/><rect x="416" y="548.17" width="48" height="5" fill="url(#pC)"/><rect x="472" y="548.17" width="184" height="5" fill="url(#pC)"/>
<rect x="48" y="554.83" width="32" height="5" fill="url(#pD)"/><rect x="88" y="554.83" width="64" height="5" fill="url(#pD)"/><rect x="288" y="554.83" width="24" height="5" fill="url(#pD)"/><rect x="408" y="554.83" width="64" height="5" fill="url(#pD)"/><rect x="480" y="554.83" width="112" height="5" fill="url(#pD)"/><rect x="600" y="554.83" width="56" height="5" fill="url(#pD)"/>
<rect x="32" y="561.5" width="40" height="5" fill="url(#pE)"/><rect x="88" y="561.5" width="56" height="5" fill="url(#pE)"/><rect x="280" y="561.5" width="32" height="5" fill="url(#pE)"/><rect x="400" y="561.5" width="64" height="5" fill="url(#pE)"/><rect x="480" y="561.5" width="104" height="5" fill="url(#pE)"/><rect x="624" y="561.5" width="24" height="5" fill="url(#pE)"/>
<rect x="16" y="568.17" width="56" height="5" fill="url(#pA)"/><rect x="88" y="568.17" width="32" height="5" fill="url(#pA)"/><rect x="264" y="568.17" width="48" height="5" fill="url(#pA)"/><rect x="392" y="568.17" width="64" height="5" fill="url(#pA)"/><rect x="488" y="568.17" width="112" height="5" fill="url(#pA)"/><rect x="624" y="568.17" width="24" height="5" fill="url(#pA)"/>
</g>
</g>
</svg>
